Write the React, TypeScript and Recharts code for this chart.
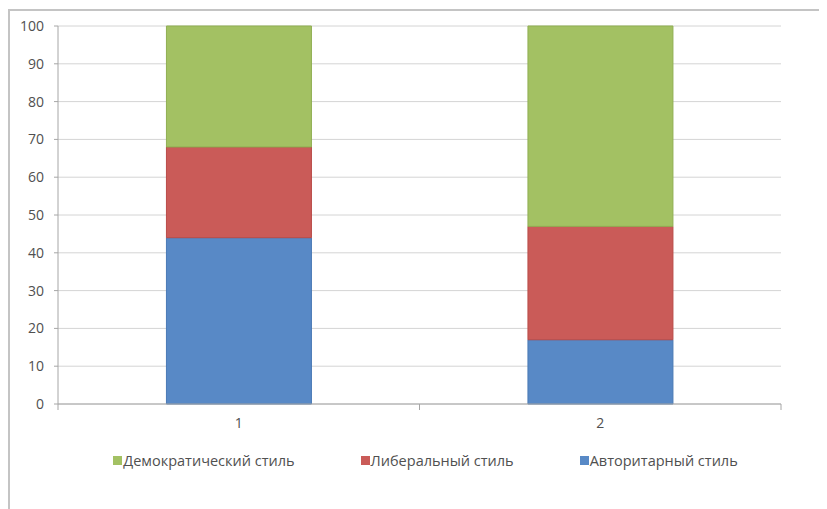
import React from "react"
import { BarChart, Bar, XAxis, YAxis, CartesianGrid } from "recharts"

const categories = ["1", "2"]
const authoritarian = [44, 17]
const liberal = [24, 30]
const democratic = [32, 53]
const yTicks = [0, 10, 20, 30, 40, 50, 60, 70, 80, 90, 100]

const chartData = categories.map((name, i) => ({
  name,
  auth: authoritarian[i],
  lib: liberal[i],
  dem: democratic[i],
}))

const legendItems = [
  { label: "Демократический стиль", color: "#A3C163" },
  { label: "Либеральный стиль", color: "#CA5B58" },
  { label: "Авторитарный стиль", color: "#5889C6" },
]

const font = "'Open Sans', sans-serif"
const textColor = "#505050"
const axisColor = "#a6a6a6"
const TICK_MARGIN = 14

// category label plus the small tick marks on the band edges
function CategoryTick(props: any) {
  const { x, y, payload } = props
  const half = payload?.offset ?? 0
  const axisY = y - TICK_MARGIN
  return (
    <g>
      <line x1={x - half} x2={x - half} y1={axisY} y2={axisY + 6} stroke={axisColor} />
      <line x1={x + half} x2={x + half} y1={axisY} y2={axisY + 6} stroke={axisColor} />
      <text x={x} y={y} dy="0.71em" textAnchor="middle" fill={textColor} fontSize={14} fontFamily={font}>
        {payload.value}
      </text>
    </g>
  )
}

function ChartLegend() {
  return (
    <div style={{ display: "flex", justifyContent: "center", gap: 66, fontFamily: font, fontSize: 14.5, color: textColor }}>
      {legendItems.map((it) => (
        <div key={it.label} style={{ display: "flex", alignItems: "center" }}>
          <span style={{ display: "inline-block", width: 9, height: 9, background: it.color, marginRight: 1 }} />
          <span>{it.label}</span>
        </div>
      ))}
    </div>
  )
}

export default function App() {
  return (
    <div
      style={{
        position: "relative",
        marginTop: 1,
        width: 817,
        height: 498,
        borderTop: "2px solid #c4c4c4",
        borderLeft: "2px solid #c4c4c4",
        overflow: "hidden",
        background: "#fff",
      }}
    >
      <BarChart
        width={817}
        height={498}
        data={chartData}
        margin={{ top: 15, right: 46, left: 0, bottom: 75 }}
        barCategoryGap="30%"
      >
        <CartesianGrid vertical={false} stroke="#d4d4d4" />
        <XAxis
          dataKey="name"
          tickLine={false}
          tickSize={0}
          tickMargin={TICK_MARGIN}
          axisLine={{ stroke: axisColor }}
          tick={<CategoryTick />}
          height={30}
        />
        <YAxis
          domain={[0, 100]}
          ticks={yTicks}
          width={48}
          tickSize={4}
          tickMargin={10}
          tickLine={{ stroke: axisColor }}
          axisLine={{ stroke: axisColor }}
          tick={{ fill: textColor, fontSize: 14, fontFamily: font }}
        />
        <Bar dataKey="auth" stackId="a" fill="#5889C6" stroke="#4a7ab5" isAnimationActive={false} />
        <Bar dataKey="lib" stackId="a" fill="#CA5B58" stroke="#b94b48" isAnimationActive={false} />
        <Bar dataKey="dem" stackId="a" fill="#A3C163" stroke="#90af52" isAnimationActive={false} />
      </BarChart>
      <div style={{ position: "absolute", top: 440, left: 7, width: 817 }}>
        <ChartLegend />
      </div>
    </div>
  )
}
